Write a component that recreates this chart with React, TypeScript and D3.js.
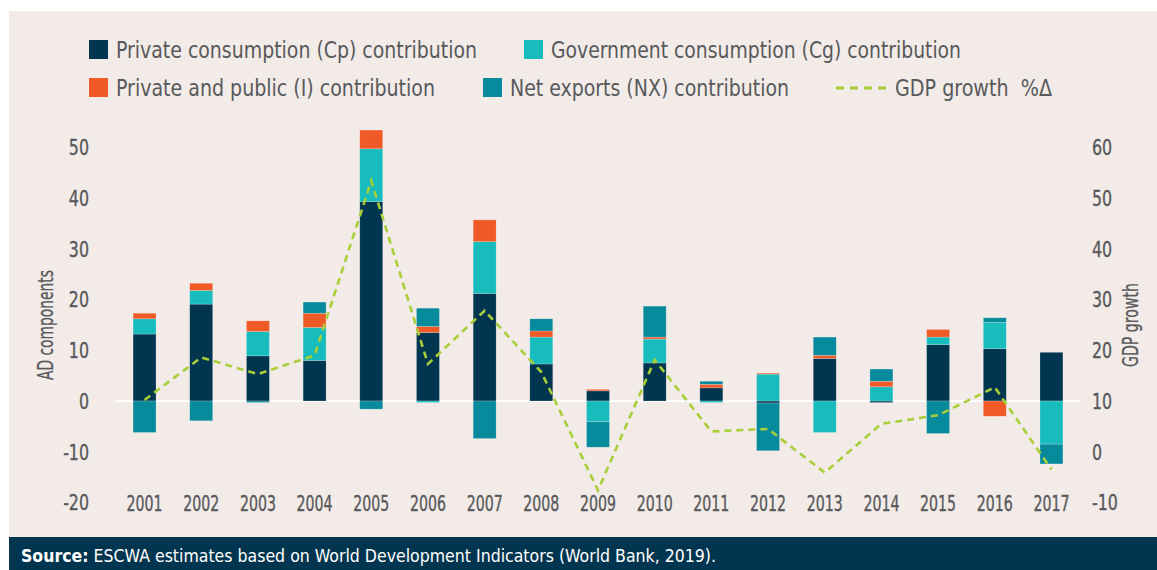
import { useRef, useEffect } from 'react';
import * as d3 from 'd3';

const years = ['2001', '2002', '2003', '2004', '2005', '2006', '2007', '2008', '2009', '2010', '2011', '2012', '2013', '2014', '2015', '2016', '2017'];
const cpValues = [13.2, 19.1, 8.9, 8.0, 39.3, 13.5, 21.2, 7.3, 2.0, 7.5, 2.6, -0.4, 8.4, -0.3, 11.1, 10.3, 9.6];
const cgValues = [3.0, 2.7, 4.8, 6.5, 10.4, -0.3, 10.2, 5.3, -4.1, 4.7, -0.3, 5.3, -6.2, 2.8, 1.5, 5.2, -8.5];
const invValues = [1.1, 1.4, 2.1, 2.8, 3.7, 1.2, 4.3, 1.2, 0.3, 0.4, 0.7, 0.2, 0.6, 1.1, 1.5, -3.0, 0];
const nxValues = [-6.2, -3.9, -0.3, 2.2, -1.6, 3.6, -7.4, 2.4, -5.0, 6.1, 0.6, -9.4, 3.6, 2.4, -6.4, 0.9, -3.9];
const gdpGrowth = [10.2, 18.6, 15.3, 19.0, 53.4, 17.3, 27.8, 15.7, -7.6, 18.1, 4.0, 4.5, -4.1, 5.5, 7.2, 12.7, -3.5];
const leftTicks = [-20, -10, 0, 10, 20, 30, 40, 50];
const rightTicks = [-10, 0, 10, 20, 30, 40, 50, 60];

const seriesKeys = ['cp', 'cg', 'inv', 'nx'];
const seriesLabels = [
  'Private consumption (Cp) contribution',
  'Government consumption (Cg) contribution',
  'Private and public (I) contribution',
  'Net exports (NX) contribution',
];
const lineLabel = 'GDP growth  %Δ';

const COLORS: Record<string, string> = {
  cp: '#02354f',
  cg: '#19bcbd',
  inv: '#ef5a27',
  nx: '#078a9c',
};
const GDP_COLOR = '#a8cf38';
const BG = '#f2ebe8';
const NAVY = '#02354f';
const TEXT = '#58595b';
const FONT = "'Liberation Sans Narrow', 'DejaVu Sans Condensed', 'Roboto Condensed', 'Arial Narrow', sans-serif";

const W = 1157;
const H = 570;
const TICK_SQUEEZE = 0.8;

// squeeze a text node horizontally to a target width
function fit(sel: d3.Selection<SVGTextElement, unknown, null, undefined>, width: number) {
  sel.attr('textLength', width).attr('lengthAdjust', 'spacingAndGlyphs');
}
function squeeze(sel: d3.Selection<SVGTextElement, unknown, null, undefined>, k: number) {
  const n = sel.node();
  if (!n) return;
  fit(sel, n.getComputedTextLength() * k);
}

export default function App() {
  const svgRef = useRef<SVGSVGElement>(null);

  useEffect(() => {
    const svg = svgRef.current;
    if (!svg) return;
    const root = d3.select(svg);
    root.selectAll('*').remove();

    // panel + footer
    root.append('rect').attr('x', 9).attr('y', 11).attr('width', W - 9).attr('height', 526).attr('fill', BG);
    root.append('rect').attr('x', 9).attr('y', 537).attr('width', W - 9).attr('height', H - 537).attr('fill', NAVY);
    const src = root.append('text').attr('x', 21).attr('y', 562).attr('fill', '#fff')
      .attr('font-family', FONT).attr('font-size', 18);
    src.append('tspan').attr('font-weight', 700).text('Source:');
    src.append('tspan').text(' ESCWA estimates based on World Development Indicators (World Bank, 2019).');
    fit(src, 695);

    const rows = years.map((y, i) => ({ year: y, cp: cpValues[i], cg: cgValues[i], inv: invValues[i], nx: nxValues[i] }));

    const x = d3.scaleBand<string>().domain(years).range([116.2, 1079.8]).paddingInner(0.595).paddingOuter(0.2975);
    const yL = d3.scaleLinear().domain([-20, 50]).range([502.5, 147.3]);
    const yR = d3.scaleLinear().domain([-10, 60]).range([502.5, 147.3]);

    // zero line
    root.append('line').attr('x1', 116).attr('x2', 1080).attr('y1', yL(0)).attr('y2', yL(0))
      .attr('stroke', '#fff').attr('stroke-width', 2);

    const stack = d3.stack<any>().keys(seriesKeys).offset(d3.stackOffsetDiverging);
    const stacked = stack(rows);
    stacked.forEach(layer => {
      root.append('g').selectAll('rect').data(layer).join('rect')
        .attr('x', d => x(d.data.year)!)
        .attr('width', x.bandwidth())
        .attr('y', d => yL(Math.max(d[0], d[1])))
        .attr('height', d => Math.abs(yL(d[0]) - yL(d[1])))
        .attr('fill', COLORS[layer.key])
        .attr('stroke', '#ffffff').attr('stroke-opacity', 0.35).attr('stroke-width', 0.6);
    });

    // GDP line
    const line = d3.line<number>().x((_, i) => x(years[i])! + x.bandwidth() / 2).y(d => yR(d));
    root.append('path').datum(gdpGrowth).attr('d', line).attr('fill', 'none')
      .attr('stroke', GDP_COLOR).attr('stroke-width', 2.6).attr('stroke-dasharray', '7,5');

    // tick labels (slightly heavier, like the condensed medium face of the original)
    const tickText = (sel: d3.Selection<SVGTextElement, unknown, null, undefined>) =>
      sel.attr('fill', TEXT).attr('stroke', TEXT).attr('stroke-width', 0.35)
        .attr('font-family', FONT).attr('font-size', 22);
    leftTicks.forEach(t => {
      const s = root.append('text').attr('x', 89).attr('y', yL(t)).attr('dy', '0.36em').attr('text-anchor', 'end')
        .call(tickText).text(t.toString());
      squeeze(s, TICK_SQUEEZE);
    });
    rightTicks.forEach(t => {
      const s = root.append('text').attr('x', 1092).attr('y', yR(t)).attr('dy', '0.36em').attr('text-anchor', 'start')
        .call(tickText).text(t.toString());
      squeeze(s, TICK_SQUEEZE);
    });
    years.forEach(yr => {
      const s = root.append('text').attr('x', x(yr)! + x.bandwidth() / 2).attr('y', 511).attr('text-anchor', 'middle')
        .call(tickText).text(yr);
      fit(s, 36);
    });

    // axis titles
    const tl = root.append('text').attr('transform', 'translate(53,325) rotate(-90)').attr('text-anchor', 'middle')
      .attr('fill', TEXT).attr('stroke', TEXT).attr('stroke-width', 0.3)
      .attr('font-family', FONT).attr('font-size', 22).text('AD components');
    fit(tl, 110);
    const tr = root.append('text').attr('transform', 'translate(1138,325) rotate(-90)').attr('text-anchor', 'middle')
      .attr('fill', TEXT).attr('stroke', TEXT).attr('stroke-width', 0.3)
      .attr('font-family', FONT).attr('font-size', 22).text('GDP growth');
    fit(tr, 84);

    // legend
    const legendPos = [
      { sx: 89, tx: 116, y: 40, w: 361 },
      { sx: 524, tx: 551, y: 40, w: 410 },
      { sx: 89, tx: 116, y: 78, w: 319 },
      { sx: 483, tx: 510, y: 78, w: 279 },
    ];
    seriesKeys.forEach((k, i) => {
      const p = legendPos[i];
      root.append('rect').attr('x', p.sx).attr('y', p.y).attr('width', 19).attr('height', 19).attr('fill', COLORS[k]);
      const t = root.append('text').attr('x', p.tx).attr('y', p.y + 18).attr('fill', TEXT)
        .attr('font-family', FONT).attr('font-size', 23).text(seriesLabels[i]);
      fit(t, p.w);
    });
    root.append('line').attr('x1', 836).attr('x2', 886).attr('y1', 88).attr('y2', 88)
      .attr('stroke', GDP_COLOR).attr('stroke-width', 3).attr('stroke-dasharray', '8,6');
    const lt = root.append('text').attr('x', 895).attr('y', 96).attr('fill', TEXT)
      .attr('font-family', FONT).attr('font-size', 23).attr('xml:space', 'preserve').text(lineLabel);
    fit(lt, 157);
  }, []);

  return (
    <div>
      <style>{'body{margin:0}'}</style>
      <svg ref={svgRef} width={W} height={H} style={{ display: 'block' }} />
    </div>
  );
}
